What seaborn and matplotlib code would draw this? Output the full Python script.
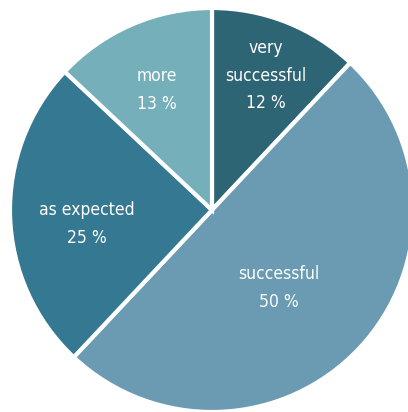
import matplotlib
matplotlib.use("Agg")
import matplotlib.pyplot as plt
import seaborn as sns

categories = ["very\nsuccessful", "successful", "as expected", "more"]
values = [12, 50, 25, 13]
colors = ["#2e6575", "#6a9bb2", "#357891", "#74afba"]
label_pos = [(0.265, 0.665), (0.33, -0.385), (-0.62, -0.07), (-0.275, 0.595)]

sns.set_theme(style="white")
plt.rcParams['font.family'] = ['DejaVu Sans']

fig = plt.figure(figsize=(4.08, 4.12), dpi=100)
r = 202
ax = fig.add_axes([(212 - r)/408, (202 - r)/412, 2*r/408, 2*r/412])
ax.pie(values, colors=colors, startangle=90, counterclock=False, radius=1,
       wedgeprops=dict(edgecolor="white", linewidth=3), frame=False)
ax.set_xlim(-1, 1)
ax.set_ylim(-1, 1)
ax.set_aspect("auto")
ax.axis("off")

for cat, v, (x, y) in zip(categories, values, label_pos):
    ax.text(x, y, f"{cat}\n{v} %", ha="center", va="center", color="white",
            fontsize=12.5, linespacing=1.7, fontstretch="condensed")

fig.savefig("out.png", dpi=100)
